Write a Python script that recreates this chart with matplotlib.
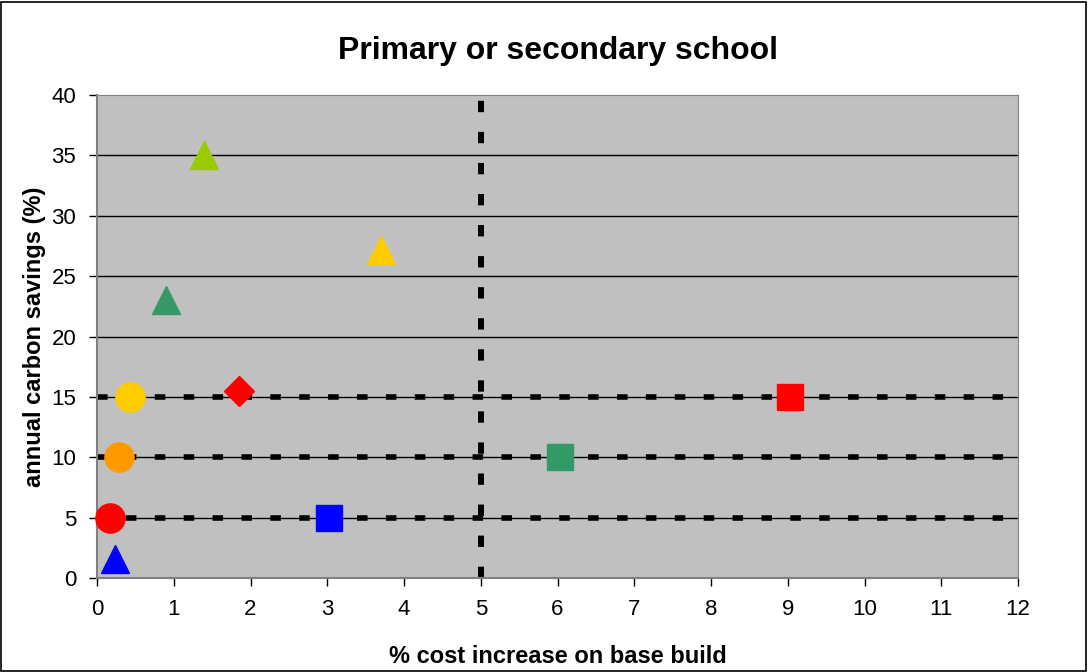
import matplotlib
matplotlib.use("Agg")
from matplotlib import pyplot as plt
from matplotlib.patches import Rectangle

plt.rcParams['font.family'] = ['Liberation Sans', 'DejaVu Sans']

# Pontos (custo %, economia %)
custo = [1.4, 3.7, 0.9, 1.85, 0.43, 0.29, 0.17, 0.23, 3.02, 6.03, 9.03]
economia = [35, 27.2, 23, 15.5, 15, 10, 5, 1.6, 5, 10, 15]
marcadores = ['^', '^', '^', 'D', 'o', 'o', 'o', '^', 's', 's', 's']
cores = ['#99CC00', '#FFCC00', '#339966', '#FF0000', '#FFCC00', '#FF9900',
         '#FF0000', '#0000FF', '#0000FF', '#339966', '#FF0000']
tamanhos = [20, 20, 20, 15, 21, 21, 21, 20, 19, 19, 19]

# Linhas de referência
limites_y = [5, 10, 15]
limite_x = 5

fig = plt.figure(figsize=(10.88, 6.72), dpi=100)
fig.patches.append(Rectangle((0.001, 0.001), 0.997, 0.996, transform=fig.transFigure,
                             fill=False, edgecolor='black', linewidth=1.2))
ax = fig.add_axes([0.0892, 0.1399, 0.8465, 0.7187])
ax.set_facecolor('#C0C0C0')

for y in [5, 10, 15, 20, 25, 30, 35]:
    ax.axhline(y, color='black', linewidth=1, zorder=1)

tracejado = (0, (1.9, 3.3))
for y in limites_y:
    ax.plot([0, 12], [y, y], color='black', linewidth=4, linestyle=tracejado, zorder=2)
ax.plot([limite_x, limite_x], [0, 40], color='black', linewidth=4.3, linestyle=tracejado, zorder=2)

for i in range(len(custo)):
    ax.plot(custo[i], economia[i], marker=marcadores[i], color=cores[i],
            markersize=tamanhos[i], linestyle='none', zorder=3, clip_on=False)

ax.set_xlim(0, 12)
ax.set_ylim(0, 40)
ax.set_xticks(range(0, 13))
ax.set_yticks(range(0, 41, 5))
for lado in ['top', 'right']:
    ax.spines[lado].set_color('#808080')
for lado in ['left', 'bottom']:
    ax.spines[lado].set_color('#808080')
    ax.spines[lado].set_linewidth(1.5)
ax.tick_params(labelsize=16, direction='out', length=6, width=1, color='black', pad=9)

ax.set_title("Primary or secondary school", fontsize=23, fontweight='bold', pad=26)
ax.set_xlabel("% cost increase on base build", fontsize=17, fontweight='bold', labelpad=18)
ax.set_ylabel("annual carbon savings (%)", fontsize=17, fontweight='bold', labelpad=4)

fig.savefig("out.png", dpi=100)
